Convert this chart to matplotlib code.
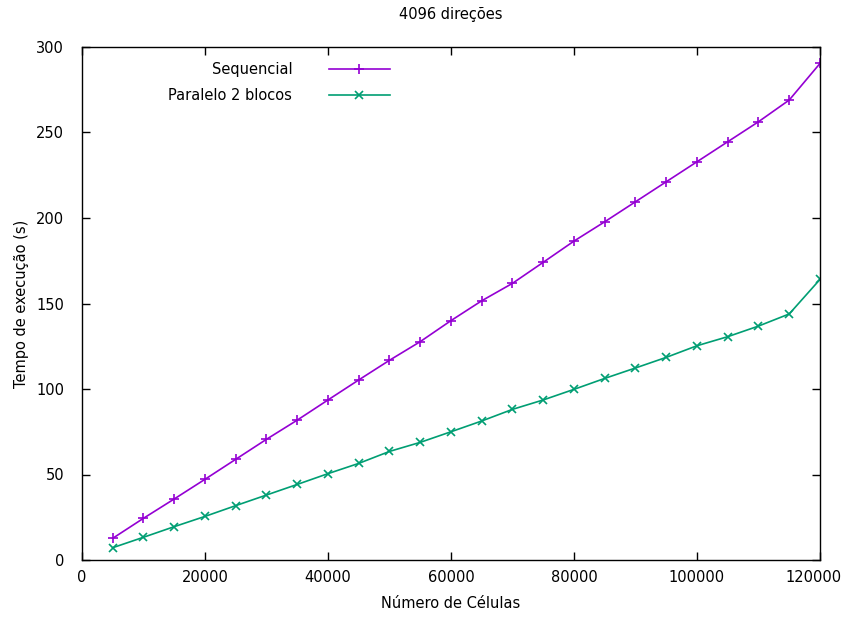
import numpy as np
import matplotlib
matplotlib.use('Agg')
import matplotlib.pyplot as plt
from matplotlib.transforms import ScaledTranslation

# numero de celulas da malha
celulas = [5000, 10000, 15000, 20000, 25000, 30000, 35000, 40000, 45000, 50000,
           55000, 60000, 65000, 70000, 75000, 80000, 85000, 90000, 95000, 100000,
           105000, 110000, 115000, 120000]

# tempos medidos (s)
t_sequencial = [12.7, 24.4, 35.7, 47.2, 58.9, 70.6, 81.8, 93.6, 105.3, 116.8,
                127.7, 140.0, 151.6, 161.8, 174.1, 186.5, 197.8, 209.5, 221.2, 232.9,
                244.6, 256.3, 269.0, 290.4]
t_paralelo2 = [7.2, 13.3, 19.5, 25.5, 31.8, 38.0, 44.2, 50.5, 56.5, 63.5,
               68.8, 75.0, 81.3, 88.1, 93.6, 99.8, 106.2, 112.3, 118.5, 125.3,
               130.6, 136.8, 143.9, 164.1]

fs = 10.5
plt.rcParams['font.family'] = 'DejaVu Sans'
plt.rcParams['font.size'] = fs

fig = plt.figure(figsize=(8.45, 6.18), dpi=100)
ax = fig.add_axes([82/845, 1-560/618, (820-82)/845, (560-47)/618])

ax.plot(celulas, t_sequencial, color='#9400d3', lw=1.2, marker='+', ms=7, mew=1.2,
        label='Sequencial')
ax.plot(celulas, t_paralelo2, color='#009e73', lw=1.2, marker='x', ms=6, mew=1.2,
        label='Paralelo 2 blocos')

ax.set_xlim(0, 120000)
ax.set_ylim(0, 300)
ax.set_xticks(np.arange(0, 120001, 20000))
ax.set_yticks(np.arange(0, 301, 50))
ax.tick_params(direction='in', length=6, width=1, top=True, right=True,
               labelsize=fs, colors='black')
ax.tick_params(axis='x', pad=7)
ax.tick_params(axis='y', pad=13)
for s in ax.spines.values():
    s.set_linewidth(1)

# puxa o ultimo rotulo do eixo x para dentro da figura
fig.canvas.draw()
ultimo = ax.get_xticklabels()[-1]
ultimo.set_transform(ultimo.get_transform() + ScaledTranslation(-6/100, 0, fig.dpi_scale_trans))

ax.set_title('4096 direções', fontsize=fs, pad=20)
ax.set_xlabel('Número de Células', fontsize=fs, labelpad=8)
ax.set_ylabel('Tempo de execução (s)', fontsize=fs, labelpad=5)

leg = ax.legend(loc='upper right', bbox_to_anchor=(0.427, 0.985), frameon=False,
                markerfirst=False, handlelength=4.2, handletextpad=2.5,
                labelspacing=0.75, borderpad=0, fontsize=fs)

fig.savefig('out.png', dpi=100)
